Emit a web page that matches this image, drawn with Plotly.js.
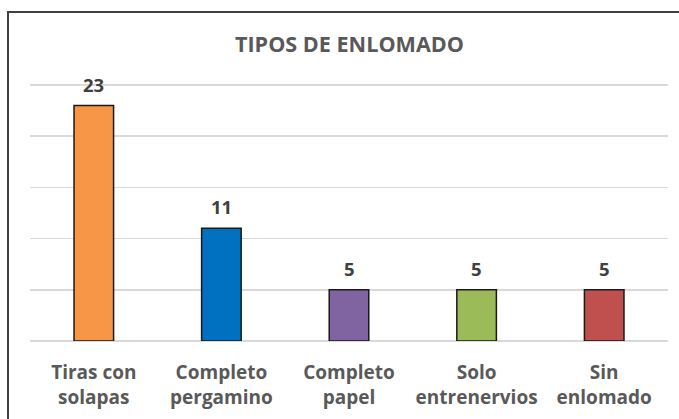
<!DOCTYPE html>
<html>
<head>
<meta charset="utf-8">
<script src="https://cdn.plot.ly/plotly-3.0.1.min.js"></script>
<style>html,body{margin:0;padding:0;background:#fff;}#chart{width:679px;height:419px;}</style>
</head>
<body>
<div id="chart"></div>
<script>
const categories = ["Tiras con<br>solapas", "Completo<br>pergamino", "Completo<br>papel", "Solo<br>entrenervios", "Sin<br>enlomado"];
const values = [23, 11, 5, 5, 5];
const barColors = ["#F79646", "#0070C0", "#8064A2", "#9BBB59", "#C0504D"];
const chartTitle = "TIPOS DE ENLOMADO";

const fontFam = "'Open Sans', Lato, sans-serif";

const trace = {
  type: "bar",
  x: categories,
  y: values,
  marker: {color: barColors, line: {color: "#1a1a1a", width: 1.5}},
  width: 0.31,
  hoverinfo: "none"
};

const annotations = categories.map((c, i) => ({
  x: c, y: values[i], xref: "x", yref: "y",
  text: String(values[i]), showarrow: false,
  yanchor: "bottom", yshift: 7,
  font: {family: fontFam, size: 18.5, color: "#404040", weight: 700}
}));

const layout = {
  width: 679, height: 419,
  margin: {l: 30, r: 11, t: 84, b: 78},
  paper_bgcolor: "#fff", plot_bgcolor: "#fff",
  showlegend: false,
  title: {text: chartTitle, x: 0.5147, xanchor: "center", y: 0.895, yanchor: "middle",
          font: {family: fontFam, size: 21.6, color: "#595959", weight: 700}},
  xaxis: {
    showgrid: false, zeroline: false, showline: false,
    ticks: "outside", ticklen: 14, tickcolor: "rgba(0,0,0,0)",
    tickfont: {family: fontFam, size: 19, color: "#595959", weight: 700}
  },
  yaxis: {
    range: [0, 25.1], tickvals: [0, 5, 10, 15, 20, 25], showticklabels: false,
    showgrid: true, gridcolor: "#d9d9d9", gridwidth: 1.5,
    zeroline: true, zerolinecolor: "#d9d9d9", zerolinewidth: 1.5,
    fixedrange: true
  },
  annotations: annotations,
  shapes: [{
    type: "rect", xref: "paper", yref: "paper",
    x0: -0.0345, x1: 1.2, y0: -0.6, y1: 1.28,
    line: {color: "#404040", width: 2}, fillcolor: "rgba(0,0,0,0)", layer: "below"
  }]
};

Plotly.newPlot("chart", [trace], layout, {displayModeBar: false, staticPlot: true});
</script>
</body>
</html>
